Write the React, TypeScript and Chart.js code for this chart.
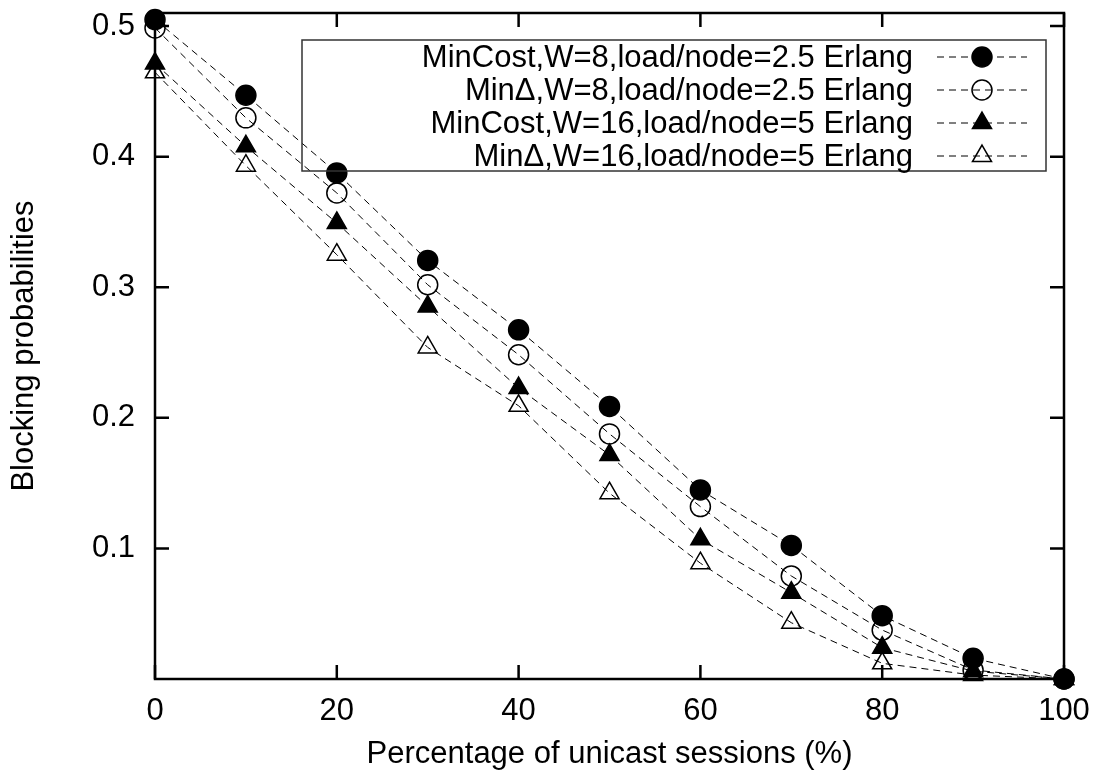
import React, { useEffect, useRef } from 'react';
import { Chart, registerables } from 'chart.js';

Chart.register(...registerables);

const xValues = [0, 10, 20, 30, 40, 50, 60, 70, 80, 90, 100];
const minCostW8 = [0.505, 0.447, 0.3875, 0.3205, 0.2674, 0.2087, 0.1448, 0.1023, 0.0485, 0.0159, 0];
const minDeltaW8 = [0.4986, 0.4297, 0.3722, 0.3019, 0.2483, 0.1877, 0.132, 0.0789, 0.0375, 0.0069, 0];
const minCostW16 = [0.4713, 0.4079, 0.3492, 0.2853, 0.2228, 0.1716, 0.107, 0.0661, 0.024, 0.006, 0];
const minDeltaW16 = [0.4646, 0.3931, 0.3249, 0.2539, 0.2092, 0.1423, 0.0887, 0.0431, 0.012, 0.003, 0];

const seriesLabels = [
  'MinCost,W=8,load/node=2.5 Erlang',
  'MinΔ,W=8,load/node=2.5 Erlang',
  'MinCost,W=16,load/node=5 Erlang',
  'MinΔ,W=16,load/node=5 Erlang',
];
const seriesValues = [minCostW8, minDeltaW8, minCostW16, minDeltaW16];
const seriesShapes = ['circle', 'circle', 'triangle', 'triangle'];
const seriesFilled = [true, false, true, false];

const xTickValues = [0, 20, 40, 60, 80, 100];
const yTickValues = [0.1, 0.2, 0.3, 0.4, 0.5];

const xTitle = 'Percentage of unicast sessions (%)';
const yTitle = 'Blocking probabilities';

const FONT = "'Liberation Sans', Arial, Helvetica, sans-serif";
const FS = 31;
const TICK = 14;

function markerRadius(shape: string) {
  return shape === 'triangle' ? 11 : 10;
}

function drawMarker(ctx: CanvasRenderingContext2D, shape: string, filled: boolean, x: number, y: number) {
  const r = markerRadius(shape);
  ctx.save();
  ctx.setLineDash([]);
  ctx.lineWidth = 1.5;
  ctx.strokeStyle = '#000';
  ctx.fillStyle = '#000';
  ctx.beginPath();
  if (shape === 'circle') {
    ctx.arc(x, y, r, 0, Math.PI * 2);
  } else {
    ctx.moveTo(x, y - r);
    ctx.lineTo(x + r * Math.cos(Math.PI / 6), y + r / 2);
    ctx.lineTo(x - r * Math.cos(Math.PI / 6), y + r / 2);
    ctx.closePath();
  }
  if (filled) ctx.fill();
  ctx.stroke();
  ctx.restore();
}

const framePlugin = {
  id: 'gnuFrame',
  beforeDatasetsDraw(chart: any) {
    const { ctx, chartArea } = chart;
    const { left, right, top, bottom } = chartArea;
    const xs = chart.scales.x;
    const ys = chart.scales.y;
    ctx.save();
    ctx.strokeStyle = '#000';
    ctx.lineWidth = 2.5;
    ctx.setLineDash([]);
    ctx.strokeRect(left, top, right - left, bottom - top);
    ctx.beginPath();
    for (const v of xTickValues) {
      const px = xs.getPixelForValue(v);
      ctx.moveTo(px, bottom);
      ctx.lineTo(px, bottom - TICK);
      ctx.moveTo(px, top);
      ctx.lineTo(px, top + TICK);
    }
    for (const v of yTickValues) {
      const py = ys.getPixelForValue(v);
      ctx.moveTo(left, py);
      ctx.lineTo(left + TICK, py);
      ctx.moveTo(right, py);
      ctx.lineTo(right - TICK, py);
    }
    ctx.stroke();
    ctx.restore();
  },
};

const legendPlugin = {
  id: 'gnuLegend',
  afterDatasetsDraw(chart: any) {
    const { ctx, chartArea } = chart;
    const boxLeft = chartArea.left + 147;
    const boxRight = chartArea.right - 18;
    const boxTop = chartArea.top + 27;
    const rowH = 33;
    const boxBottom = boxTop + 17 + rowH * 3 + 15;
    ctx.save();
    ctx.strokeStyle = '#333';
    ctx.lineWidth = 1.5;
    ctx.strokeRect(boxLeft, boxTop, boxRight - boxLeft, boxBottom - boxTop);
    ctx.font = `${FS}px ${FONT}`;
    ctx.fillStyle = '#000';
    ctx.textAlign = 'right';
    ctx.textBaseline = 'middle';
    const textRight = boxRight - 133;
    const sampleL = boxRight - 109;
    const sampleR = boxRight - 19;
    const sampleMid = (sampleL + sampleR) / 2;
    seriesLabels.forEach((label, i) => {
      const cy = boxTop + 17 + rowH * i;
      ctx.fillText(label, textRight, cy + 1);
      ctx.save();
      ctx.strokeStyle = '#000';
      ctx.lineWidth = 1;
      ctx.setLineDash([7, 5]);
      ctx.beginPath();
      ctx.moveTo(sampleL, cy);
      ctx.lineTo(sampleR, cy);
      ctx.stroke();
      ctx.restore();
      drawMarker(ctx, seriesShapes[i], seriesFilled[i], sampleMid, cy);
    });
    ctx.restore();
  },
};

export default function App() {
  const canvasRef = useRef<HTMLCanvasElement | null>(null);

  useEffect(() => {
    document.body.style.margin = '0';
    const canvas = canvasRef.current;
    if (!canvas) return;
    const datasets = seriesValues.map((vals, i) => ({
      label: seriesLabels[i],
      data: xValues.map((x, j) => ({ x, y: vals[j] })),
      borderColor: '#000',
      borderWidth: 1,
      borderDash: [7, 5],
      pointStyle: seriesShapes[i],
      pointRadius: markerRadius(seriesShapes[i]),
      pointHoverRadius: markerRadius(seriesShapes[i]),
      pointBackgroundColor: seriesFilled[i] ? '#000' : 'rgba(0,0,0,0)',
      pointBorderColor: '#000',
      pointBorderWidth: 1.5,
      fill: false,
      tension: 0,
      clip: false as any,
    }));

    const chart = new Chart(canvas, {
      type: 'line',
      data: { datasets },
      options: {
        responsive: false,
        animation: false,
        devicePixelRatio: 1,
        events: [],
        layout: { padding: { left: 0, right: 44, top: 13, bottom: 0 } },
        plugins: {
          legend: { display: false },
          tooltip: { enabled: false },
        },
        scales: {
          x: {
            type: 'linear',
            min: 0,
            max: 100,
            afterBuildTicks: (scale: any) => {
              scale.ticks = xTickValues.map((v) => ({ value: v }));
            },
            afterFit: (scale: any) => {
              scale.height = 97;
              scale.paddingLeft = 0;
              scale.paddingRight = 0;
              scale.paddingTop = 0;
              scale.paddingBottom = 0;
            },
            grid: { display: false, drawTicks: false },
            border: { display: false },
            ticks: {
              color: '#000',
              font: { family: FONT, size: FS },
              padding: 14,
              maxRotation: 0,
              autoSkip: false,
              callback: (v: any) => String(v),
            },
            title: {
              display: true,
              text: xTitle,
              color: '#000',
              font: { family: FONT, size: FS },
              padding: { top: 0, bottom: 3 },
            },
          },
          y: {
            type: 'linear',
            min: 0,
            max: 0.51,
            afterBuildTicks: (scale: any) => {
              scale.ticks = yTickValues.map((v) => ({ value: v }));
            },
            afterFit: (scale: any) => {
              scale.width = 155;
              scale.paddingLeft = 0;
              scale.paddingRight = 0;
              scale.paddingTop = 0;
              scale.paddingBottom = 0;
            },
            grid: { display: false, drawTicks: false },
            border: { display: false },
            ticks: {
              color: '#000',
              font: { family: FONT, size: FS },
              padding: 20,
              autoSkip: false,
              callback: (v: any) => Number(v).toFixed(1),
            },
            title: {
              display: true,
              text: yTitle,
              color: '#000',
              font: { family: FONT, size: FS },
              padding: { top: 6, bottom: 0 },
            },
          },
        },
      },
      plugins: [framePlugin, legendPlugin],
    });

    return () => {
      chart.destroy();
    };
  }, []);

  return (
    <div style={{ position: 'absolute', left: 0, top: 0, width: 1108, height: 776, background: '#fff' }}>
      <canvas ref={canvasRef} width={1108} height={776} style={{ display: 'block' }} />
    </div>
  );
}
